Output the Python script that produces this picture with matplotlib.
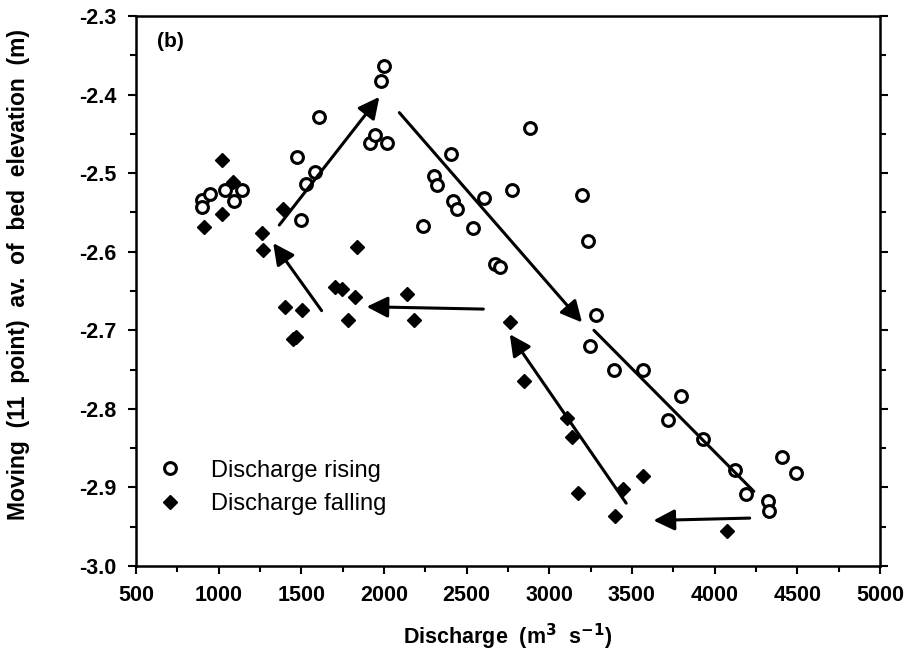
import numpy as np
import matplotlib.pyplot as plt
from matplotlib.ticker import MultipleLocator, FormatStrFormatter

plt.rcParams['font.family'] = ['Liberation Sans', 'DejaVu Sans']
plt.rcParams['axes.unicode_minus'] = False

# rising limb of the hydrograph (open circles)
q_rise = [2002, 1982, 1607, 1915, 1946, 2016, 1476, 1583, 1526, 1498,
          897, 948, 897, 1038, 1139, 1095,
          2405, 2304, 2318, 2772, 2607, 2419, 2440, 2234, 2540, 2671, 2702,
          2885, 3198, 3235,
          3280, 3245, 3393, 3568, 3798, 3718, 3928, 4123, 4191, 4407, 4490,
          4325, 4329]
z_rise = [-2.364, -2.383, -2.429, -2.462, -2.451, -2.462, -2.479, -2.498, -2.514, -2.559,
          -2.534, -2.527, -2.543, -2.521, -2.522, -2.535,
          -2.476, -2.503, -2.515, -2.521, -2.531, -2.536, -2.545, -2.567, -2.570, -2.615, -2.619,
          -2.442, -2.528, -2.586,
          -2.680, -2.720, -2.751, -2.751, -2.784, -2.814, -2.838, -2.878, -2.908, -2.861, -2.882,
          -2.917, -2.930]

# falling limb (filled diamonds)
q_fall = [1018, 1089, 1018, 911, 1387, 1260, 1266, 1839, 2137, 1703, 1744, 1825,
          1401, 1502, 1451, 1465, 1784, 2181, 2765,
          2847, 3105, 3136, 3568, 3176, 3445, 3397, 4072]
z_fall = [-2.483, -2.511, -2.552, -2.569, -2.546, -2.576, -2.598, -2.594, -2.654, -2.645, -2.648, -2.657,
          -2.670, -2.674, -2.711, -2.709, -2.687, -2.687, -2.690,
          -2.765, -2.811, -2.836, -2.885, -2.907, -2.902, -2.936, -2.956]

# hysteresis arrows: (start q, start z, end q, end z, head)
arrows = [
    (1367, -2.566, 1972, -2.403, True),
    (2093, -2.423, 3198, -2.690, True),
    (3270, -2.700, 4237, -2.905, False),
    (4212, -2.939, 3630, -2.942, True),
    (3465, -2.920, 2761, -2.705, True),
    (2601, -2.673, 1895, -2.670, True),
    (1623, -2.675, 1330, -2.589, True),
]

fig = plt.figure(figsize=(9.15, 6.72), dpi=100)
ax = fig.add_axes([0.1486, 0.1577, 0.8131, 0.8185])

ax.plot(q_rise, z_rise, 'o', ms=8.5, mfc='white', mec='black', mew=2.2,
        label='Discharge rising', zorder=3)
ax.plot(q_fall, z_fall, 'D', ms=7, mfc='black', mec='black', mew=1,
        label='Discharge falling', zorder=3)

for x0, y0, x1, y1, head in arrows:
    style = '-|>' if head else '-'
    ax.annotate('', xy=(x1, y1), xytext=(x0, y0),
                arrowprops=dict(arrowstyle=style, color='black', lw=2.2,
                                mutation_scale=32, shrinkA=0, shrinkB=0))

ax.set_xlim(500, 5000)
ax.set_ylim(-3.0, -2.3)
ax.xaxis.set_major_locator(MultipleLocator(500))
ax.xaxis.set_minor_locator(MultipleLocator(250))
ax.yaxis.set_major_locator(MultipleLocator(0.1))
ax.yaxis.set_minor_locator(MultipleLocator(0.05))
ax.yaxis.set_major_formatter(FormatStrFormatter('%.1f'))

for s in ax.spines.values():
    s.set_linewidth(1.8)
ax.tick_params(which='both', direction='out', width=1.5, top=False, right=True)
ax.tick_params(which='major', length=6, labelsize=15.5, pad=8)
ax.tick_params(which='minor', length=4)
for lab in ax.get_xticklabels() + ax.get_yticklabels():
    lab.set_fontweight('bold')

ax.set_xlabel('Discharge  (m$^\\mathbf{3}$  s$^\\mathbf{-1}$)', fontsize=15.5,
              fontweight='bold', labelpad=11)
ax.set_ylabel('Moving  (11  point)  av.  of  bed  elevation  (m)', fontsize=16.5,
              fontweight='bold')
ax.yaxis.set_label_coords(-0.142, 0.53)

ax.text(0.028, 0.97, '(b)', transform=ax.transAxes, fontsize=15,
        fontweight='bold', va='top')

ax.legend(loc='lower left', bbox_to_anchor=(0.0094, 0.075), frameon=False,
          fontsize=17, handlelength=1.5, handletextpad=1.0, labelspacing=0.5,
          borderaxespad=0)

plt.savefig('out.png', dpi=100)
